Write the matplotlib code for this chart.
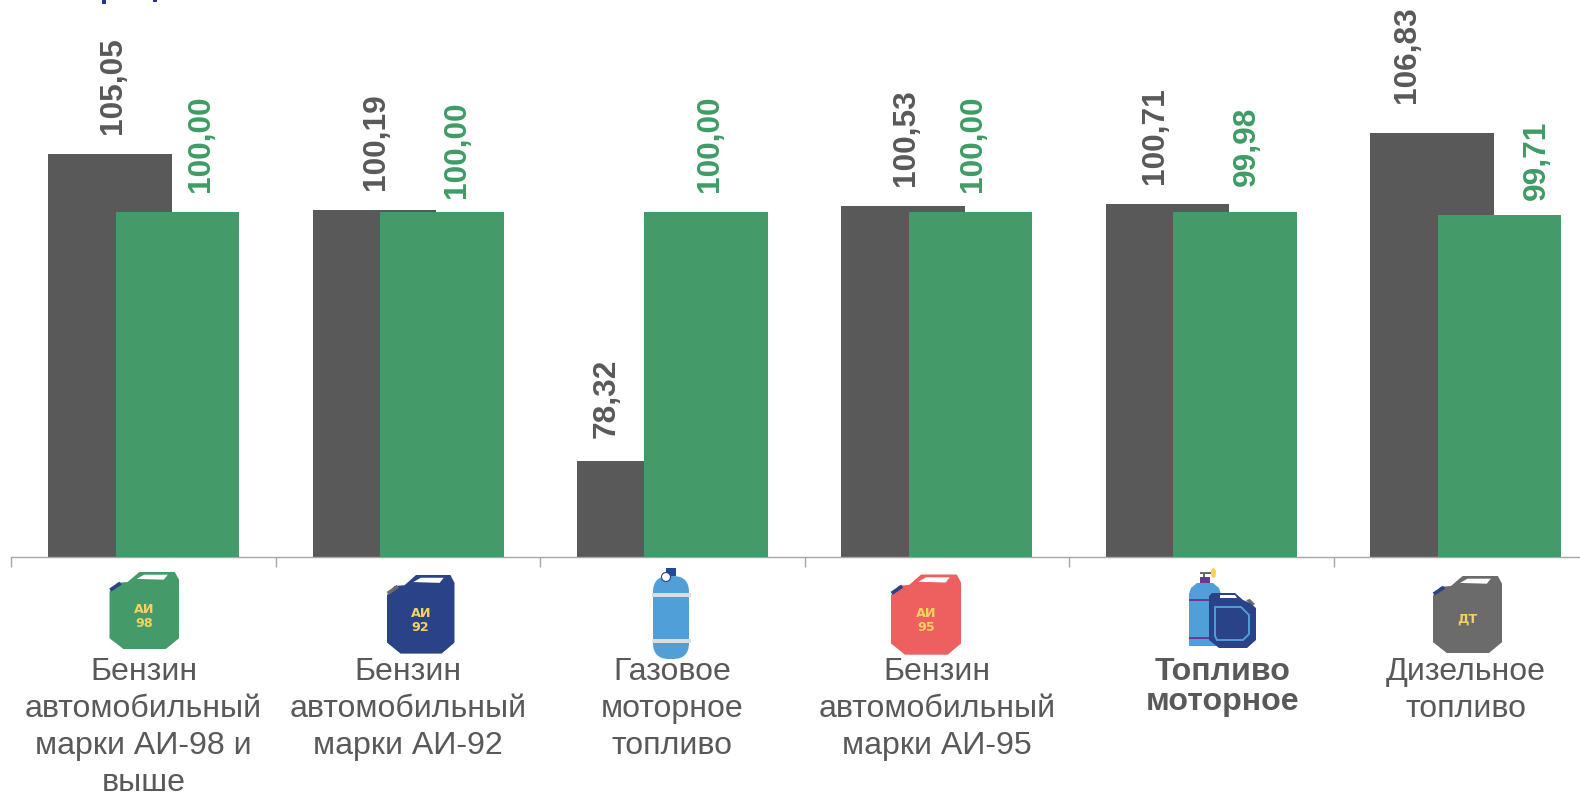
import matplotlib
matplotlib.use("Agg")
import matplotlib.pyplot as plt
from matplotlib.patches import Polygon, Rectangle, FancyBboxPatch, Ellipse
from matplotlib.transforms import ScaledTranslation

plt.rcParams['font.family'] = ['Liberation Sans', 'DejaVu Sans']

# ---- data -------------------------------------------------------------
categories = ["Бензин\nавтомобильный\nмарки АИ-98 и\nвыше",
              "Бензин\nавтомобильный\nмарки АИ-92",
              "Газовое\nмоторное\nтопливо",
              "Бензин\nавтомобильный\nмарки АИ-95",
              "Топливо\nмоторное",
              "Дизельное\nтопливо"]
series_gray = [105.05, 100.19, 78.32, 100.53, 100.71, 106.83]
series_green = [100.00, 100.00, 100.00, 100.00, 99.98, 99.71]
bold_category = 4

# ---- styling ----------------------------------------------------------
GRAY = "#595959"
GREEN = "#449A68"
GREEN_TXT = "#3F9C65"
AXIS = "#A6A6A6"
YELLOW = "#F5D25F"
BLUE = "#2A4288"
LBLUE = "#509FD8"
W, H = 1580, 792
DPI = 100

# label offsets (px) from the bar's top centre
gray_dx = [3, 2, -32, 3, -13, -25]
gray_dy = [20, 20, 23, 20, 20, 30]
green_dx = [24, 15, 4, 2, 12, 37]
green_dy = [20, 14, 20, 20, 26, 15]

fig = plt.figure(figsize=(W / DPI, H / DPI), dpi=DPI, facecolor="white")

# Main axes: extends past the right edge as in the reference
left, right, base = 11.4, 1598.0, 556.5
ax = fig.add_axes([left / W, 1 - base / H, (right - left) / W, base / H])
ax.set_facecolor("none")
ax.set_xlim(-0.5, 5.5)
ax.set_ylim(70.04, 70.04 + base / 11.5)

xs = list(range(len(categories)))
bw, off = 0.467, 0.1275
ax.bar([x - off for x in xs], series_gray, width=bw, color=GRAY, zorder=2)
ax.bar([x + off for x in xs], series_green, width=bw, color=GREEN, zorder=3)


def fmt(v):
    return f"{v:.2f}".replace(".", ",")


def px(v):
    return v * 72 / DPI


for x, v, dx, dy in zip(xs, series_gray, gray_dx, gray_dy):
    ax.annotate(fmt(v), (x - off, v), xytext=(px(dx), px(dy)), textcoords="offset points",
                rotation=90, ha="center", va="bottom", fontsize=22.8, fontweight="bold",
                color=GRAY, annotation_clip=False, zorder=5)
for x, v, dx, dy in zip(xs, series_green, green_dx, green_dy):
    ax.annotate(fmt(v), (x + off, v), xytext=(px(dx), px(dy)), textcoords="offset points",
                rotation=90, ha="center", va="bottom", fontsize=22.8, fontweight="bold",
                color=GREEN_TXT, annotation_clip=False, zorder=5)

for s in ("top", "left", "right"):
    ax.spines[s].set_visible(False)
ax.spines["bottom"].set_color(AXIS)
ax.spines["bottom"].set_linewidth(1.0)
ax.set_yticks([])
ax.set_xticks([x - 0.5 for x in range(7)], labels=[""] * 7)
ax.tick_params(axis="x", which="major", length=7, width=1.0, color=AXIS)
ax.set_xticks(xs, labels=categories, minor=True)
ax.tick_params(axis="x", which="minor", length=0, pad=72.5, labelsize=23.1, labelcolor=GRAY)
for i, lab in enumerate(ax.get_xticklabels(minor=True)):
    lab.set_linespacing(1.30)
    lab.set_va("top")
    lab.set_ha("center")
    if i == bold_category:
        lab.set_fontweight("bold")
        lab.set_linespacing(0.99)
        lab.set_transform(lab.get_transform() + ScaledTranslation(px(21) / 72, 0, fig.dpi_scale_trans))

# Overlay in pixel space for the decorative icons
ov = fig.add_axes([0, 0, 1, 1], zorder=10)
ov.set_xlim(0, W)
ov.set_ylim(H, 0)
ov.axis("off")
ov.patch.set_alpha(0)

CAN = [(0, .255), (.11, .14), (.26, .13), (.43, 0), (.94, 0), (1, .1), (1, .86), (.81, 1), (.2, 1), (0, .86)]
HANDLE = [(.39, .09), (.5, .035), (.84, .035), (.78, .1)]
ICON_FONT = ['DejaVu Sans']


def canister(x0, y0, x1, y1, color, cap, lines):
    w, h = x1 - x0, y1 - y0
    t = lambda pts: [(x0 + a * w, y0 + b * h) for a, b in pts]
    ov.add_patch(Polygon(t(CAN), closed=True, fc=color, ec="none"))
    ov.add_patch(Polygon(t(HANDLE), closed=True, fc="white", ec="none"))
    ov.plot(*zip(*t([(.01, .235), (.16, .145)])), color=cap, lw=2.6, solid_capstyle="butt")
    kw = dict(color=YELLOW, fontsize=9.2, fontweight="bold", ha="center", va="center", family=ICON_FONT)
    if len(lines) == 2:
        ov.text(x0 + .5 * w, y0 + .485 * h, lines[0], **kw)
        ov.text(x0 + .5 * w, y0 + .665 * h, lines[1], **kw)
    else:
        ov.text(x0 + .5 * w, y0 + .56 * h, lines[0], **kw)


canister(109.5, 572, 179, 649, GREEN, BLUE, ("АИ", "98"))
canister(387, 575, 454.5, 653.6, BLUE, "#6B6B6B", ("АИ", "92"))
canister(891, 574.5, 961, 654.7, "#EE5F60", BLUE, ("АИ", "95"))
canister(1433, 576, 1502, 653, "#6B6B6B", BLUE, ("ДТ",))

# gas cylinder
ov.add_patch(Rectangle((666, 568), 10, 8, fc="#1F4A9A", ec="none"))
ov.add_patch(FancyBboxPatch((653, 576), 36, 83, boxstyle="round,pad=0,rounding_size=16",
                            fc=LBLUE, ec="none"))
ov.add_patch(plt.Circle((666, 577), 4.5, fc="white", ec=BLUE, lw=0.8))
for yy in (595, 641):
    ov.add_patch(Rectangle((651.5, yy - 2), 39, 4, fc="#DDDDDD", ec="none"))

# motor fuel combo icon
ov.add_patch(Rectangle((1203, 572), 2, 6, fc="#6B6B6B", ec="none"))
ov.add_patch(Rectangle((1200, 572), 11, 2, fc="#6B6B6B", ec="none"))
ov.add_patch(Ellipse((1213.5, 573), 5, 10, fc=YELLOW, ec="none"))
ov.add_patch(Rectangle((1200, 577), 10, 6, fc="#6A3A8C", ec="none"))
ov.add_patch(Polygon([(1189, 646), (1189, 594), (1191, 588), (1197, 583), (1213, 583), (1219, 588),
                      (1221, 594), (1221, 646)], closed=True, fc=LBLUE, ec="none"))
for yy in (600, 638):
    ov.add_patch(Rectangle((1189, yy - 0.8), 30, 1.6, fc="#6A3A8C", ec="none"))
ov.add_patch(Polygon([(1246, 600), (1250, 599), (1255, 604), (1252, 606)], closed=True, fc="#6B6B6B", ec="none"))
ov.add_patch(Polygon([(1209, 596), (1212, 593), (1235, 593), (1243, 600), (1250, 603), (1256, 608),
                      (1256, 640), (1247, 648), (1219, 648), (1209, 640)],
                     closed=True, fc=BLUE, ec="none"))
ov.add_patch(Polygon([(1220, 595), (1235, 595), (1237, 598), (1220, 598)], closed=True, fc="white", ec="none"))
ov.add_patch(Polygon([(1215, 607), (1241, 607), (1249, 615), (1249, 634), (1243, 640), (1217, 640), (1215, 636)],
                     closed=True, fc="none", ec=LBLUE, lw=1.4))

# clipped fragments of a heading at the very top
ov.add_patch(Rectangle((102, 0), 4, 3.5, fc="#24358F", ec="none"))
ov.add_patch(Rectangle((153, 0), 4, 1.5, fc="#24358F", ec="none"))

fig.savefig("out.png", dpi=DPI)
